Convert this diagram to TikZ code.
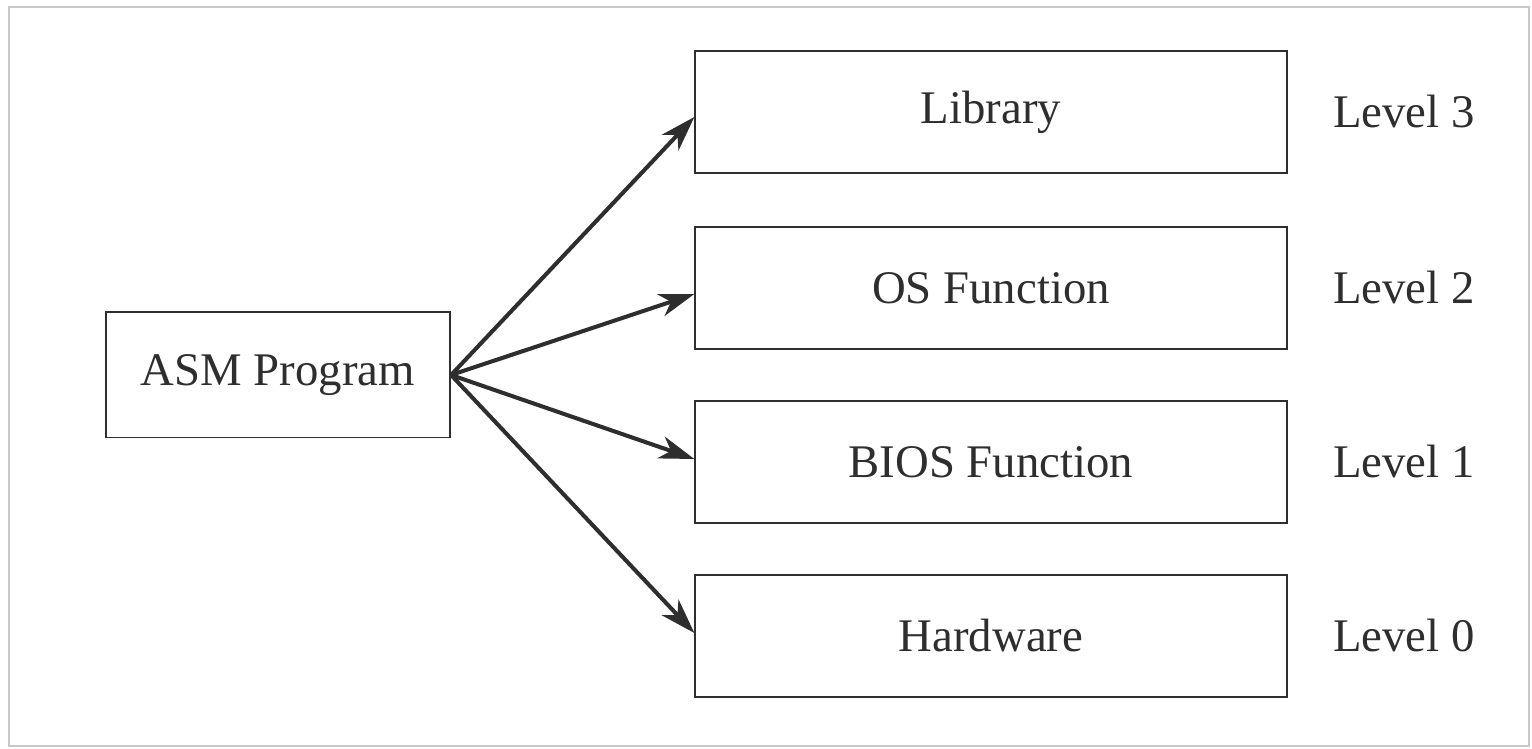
\documentclass[tikz,border=0pt]{standalone}
\usepackage{fontspec}
\setmainfont{Liberation Serif}
\usetikzlibrary{arrows.meta}
\definecolor{ink}{HTML}{2E2E2E}
\definecolor{frame}{HTML}{C8C8C8}
\tikzset{
  layer/.style={draw=ink, line width=0.55pt, minimum width=5.91cm, minimum height=1.22cm,
    inner sep=0pt, text=ink, font=\fontsize{13.3}{16}\selectfont},
  prog/.style={layer, minimum width=3.44cm, minimum height=1.25cm},
  lvl/.style={text=ink, inner sep=0pt, font=\fontsize{13.3}{16}\selectfont},
  call/.style={draw=ink, line width=1.15pt, -{Stealth[length=10pt,width=6.5pt,inset=3pt]}}
}
\begin{document}
\begin{tikzpicture}[x=0.01cm, y=-0.01cm]
  \useasboundingbox (0,0) rectangle (1532,749);
  % outer frame
  \draw[frame, line width=0.8pt] (9,7) rectangle (1529,746);

  % calling program
  \node[prog] (asm) at (278,375) {ASM Program};

  % service layers
  \node[layer] (lib)  at (991,112) {Library};
  \node[layer] (os)   at (991,288) {OS Function};
  \node[layer] (bios) at (991,462) {BIOS Function};
  \node[layer] (hw)   at (991,636) {Hardware};

  % level labels
  \node[lvl] (l3) at (1404,112) {Level 3};
  \node[lvl] (l2) at (1404,288) {Level 2};
  \node[lvl] (l1) at (1404,462) {Level 1};
  \node[lvl] (l0) at (1404,636) {Level 0};

  % calls from the program
  \draw[call] (asm.east) -- ([yshift=-0.05cm]lib.west);
  \draw[call] (asm.east) -- ([yshift=-0.06cm]os.west);
  \draw[call] (asm.east) -- ([yshift=0.03cm]bios.west);
  \draw[call] (asm.east) -- ([yshift=0.03cm]hw.west);
\end{tikzpicture}
\end{document}
